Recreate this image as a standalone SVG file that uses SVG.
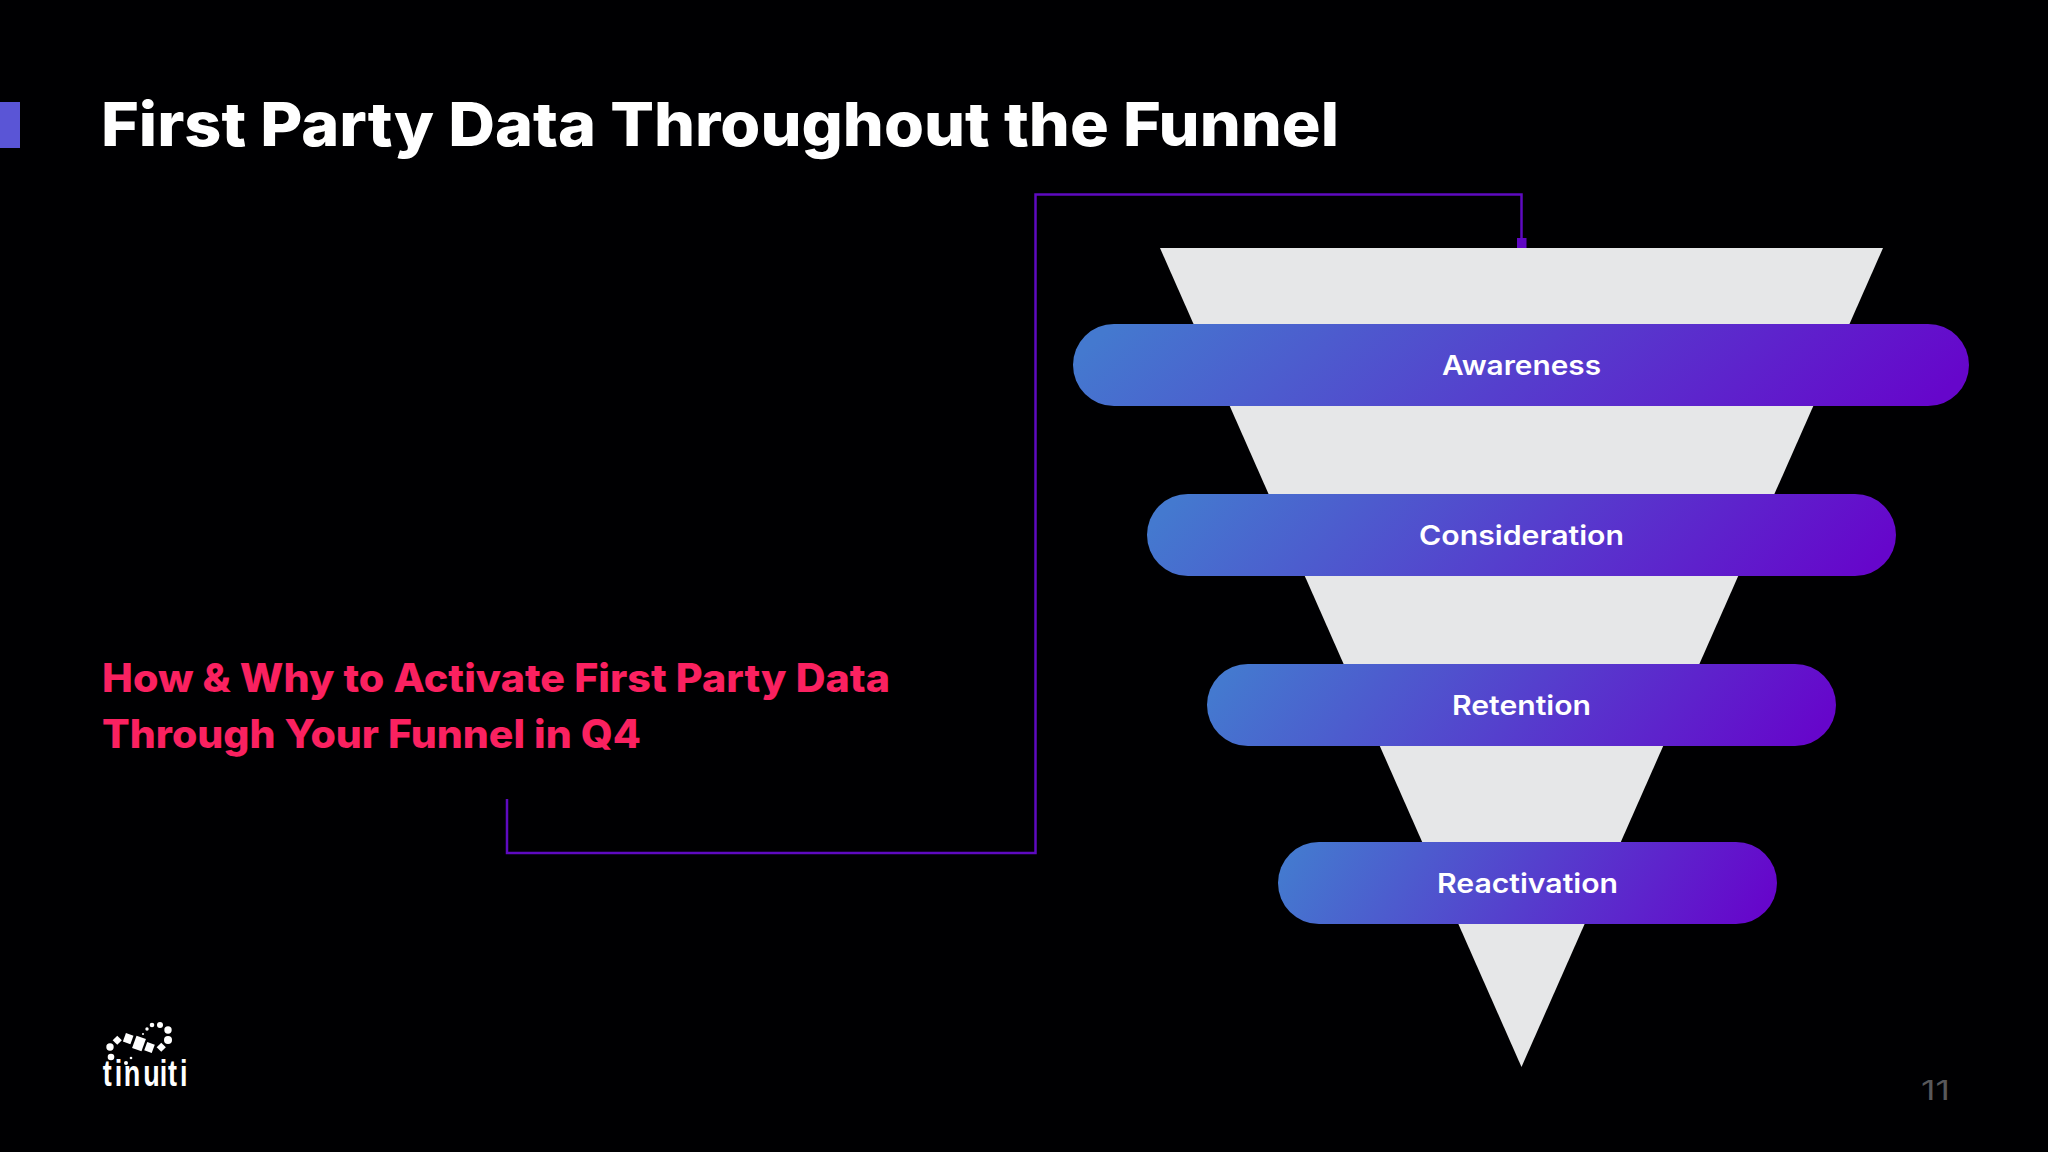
<svg xmlns="http://www.w3.org/2000/svg" width="2048" height="1152" viewBox="0 0 2048 1152">
<style>
.t{font-family:"Inter","Liberation Sans",sans-serif}
.pill{fill:url(#pg)}
.pl{font-family:"Inter","Liberation Sans",sans-serif;font-size:27px;font-weight:600;fill:#fff}
.ld{fill:#fff}
</style>
<defs>
<linearGradient id="pg" x1="0" y1="0.45" x2="1" y2="0.55"><stop offset="0" stop-color="#4479cf"/><stop offset="1" stop-color="#6606cb"/></linearGradient>
<marker id="sq" markerUnits="userSpaceOnUse" markerWidth="10" markerHeight="10" refX="5" refY="5"><rect width="10" height="10" fill="#6007c4"/></marker>
</defs>
<rect width="2048" height="1152" fill="#000002"/>
<rect id="accent" x="0" y="102" width="20" height="46" fill="#5a55d6"/>
<text id="title" class="t" x="101" y="146" font-size="61" font-weight="800" fill="#fff" textLength="1238" lengthAdjust="spacingAndGlyphs">First Party Data Throughout the Funnel</text>
<g id="subtitle" class="t" font-size="39" font-weight="800" fill="#fa2160">
<text x="102" y="692" textLength="788" lengthAdjust="spacingAndGlyphs">How &amp; Why to Activate First Party Data</text>
<text x="102" y="748" textLength="539" lengthAdjust="spacingAndGlyphs">Through Your Funnel in Q4</text>
</g>
<polygon id="funnel" points="1160,248 1883,248 1521.5,1067" fill="#e6e7e8"/>
<g id="connectors"><path d="M507 799V853H1035.5V194.500H1521.500V243" fill="none" stroke="#5e0ac0" stroke-width="2.500" marker-end="url(#sq)"/></g>
<g id="awareness"><rect class="pill" x="1073" y="324" width="896" height="82" rx="41"/><text class="pl" x="1521.500" y="375" text-anchor="middle" textLength="159" lengthAdjust="spacingAndGlyphs">Awareness</text></g>
<g id="consideration"><rect class="pill" x="1147" y="494" width="749" height="82" rx="41"/><text class="pl" x="1521.500" y="545" text-anchor="middle" textLength="205" lengthAdjust="spacingAndGlyphs">Consideration</text></g>
<g id="retention"><rect class="pill" x="1207" y="664" width="629" height="82" rx="41"/><text class="pl" x="1521.500" y="715" text-anchor="middle" textLength="139" lengthAdjust="spacingAndGlyphs">Retention</text></g>
<g id="reactivation"><rect class="pill" x="1278" y="842" width="499" height="82" rx="41"/><text class="pl" x="1527.500" y="893" text-anchor="middle" textLength="181" lengthAdjust="spacingAndGlyphs">Reactivation</text></g>
<g id="logo">
<circle class="ld" cx="110" cy="1047" r="3.700"/><rect class="ld" x="114" y="1037" width="6.500" height="6.500" transform="rotate(45 117.250 1040.250)"/>
<rect class="ld" x="124" y="1034" width="8" height="9" transform="rotate(20 128 1039)"/>
<rect class="ld" x="134" y="1037" width="10" height="13" transform="rotate(20 139 1043.500)"/>
<rect class="ld" x="145.500" y="1043" width="8" height="9" transform="rotate(20 149.500 1047.500)"/>
<rect class="ld" x="158" y="1044" width="6.500" height="6.500" transform="rotate(45 161.250 1047.250)"/>
<circle class="ld" cx="168" cy="1040" r="4"/><circle class="ld" cx="168" cy="1030" r="3.700"/><circle class="ld" cx="160" cy="1025" r="3"/><circle class="ld" cx="152" cy="1025" r="2.300"/><circle class="ld" cx="147" cy="1029" r="1.700"/><circle class="ld" cx="143" cy="1034" r="1"/>
<circle class="ld" cx="111" cy="1057" r="3.300"/><circle class="ld" cx="126" cy="1063" r="2"/><circle class="ld" cx="131" cy="1058" r="1.300"/>
<text transform="translate(0 1086) scale(.75 1)" x="137 153 165 191 213 224 240" y="0" font-family="'Liberation Sans',sans-serif" font-size="36" font-weight="700" fill="#fff">tinuiti</text>
</g>
<text id="page" class="t" x="1921" y="1100" font-size="27" fill="#58585a" textLength="29" lengthAdjust="spacingAndGlyphs">11</text>
</svg>
